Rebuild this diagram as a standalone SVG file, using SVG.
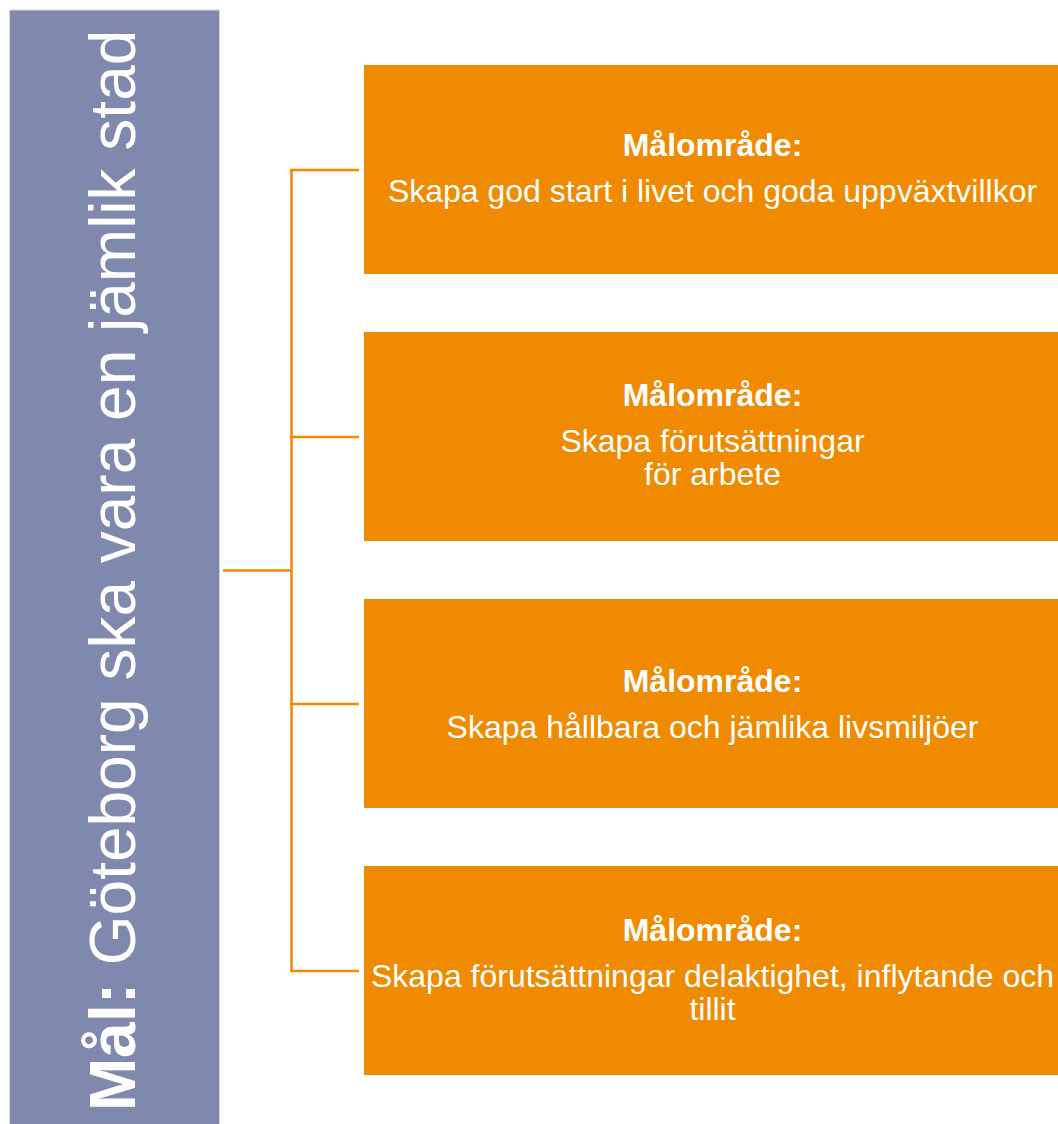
<svg xmlns="http://www.w3.org/2000/svg" width="1058" height="1124" viewBox="0 0 1058 1124">
<style>
.goal{fill:#7F89AD;stroke:#D6DAE6;stroke-width:1}
.area{fill:#F08A00}
.conn{stroke:#F08A00;stroke-width:2.5;fill:none}
.t{font-family:"Liberation Sans",Arial,sans-serif;fill:#FFFFFF}
.lbl{font-size:32px;text-anchor:middle}
.b{font-weight:bold}
</style>
<rect width="1058" height="1124" fill="#FFFFFF"/>
<g id="goal">
<rect class="goal" x="9.5" y="10" width="210" height="1120"/>
<text class="t" font-size="64" transform="translate(135,1111) rotate(-90)"><tspan font-weight="bold">Mål:</tspan> Göteborg ska vara en jämlik stad</text>
</g>
<g id="connectors">
<line class="conn" x1="223" y1="570.5" x2="291.5" y2="570.5"/>
<line class="conn" x1="291.5" y1="169" x2="291.5" y2="971"/>
<line class="conn" x1="290" y1="170" x2="359" y2="170"/>
<line class="conn" x1="290" y1="437" x2="359" y2="437"/>
<line class="conn" x1="290" y1="704" x2="359" y2="704"/>
<line class="conn" x1="290" y1="971" x2="359" y2="971"/>
</g>
<g id="area1">
<rect class="area" x="364" y="65" width="694" height="209"/>
<text class="t lbl b" x="712.5" y="156">Målområde:</text>
<text class="t lbl" x="712.5" y="202">Skapa god start i livet och goda uppväxtvillkor</text>
</g>
<g id="area2">
<rect class="area" x="364" y="332" width="694" height="209"/>
<text class="t lbl b" x="712.5" y="406">Målområde:</text>
<text class="t lbl" x="712.5" y="452">Skapa förutsättningar</text>
<text class="t lbl" x="712.5" y="485">för arbete</text>
</g>
<g id="area3">
<rect class="area" x="364" y="599" width="694" height="209"/>
<text class="t lbl b" x="712.5" y="692">Målområde:</text>
<text class="t lbl" x="712.5" y="738">Skapa hållbara och jämlika livsmiljöer</text>
</g>
<g id="area4">
<rect class="area" x="364" y="866" width="694" height="209"/>
<text class="t lbl b" x="712.5" y="941">Målområde:</text>
<text class="t lbl" x="712.5" y="987">Skapa förutsättningar delaktighet, inflytande och</text>
<text class="t lbl" x="712.5" y="1020">tillit</text>
</g>
</svg>
